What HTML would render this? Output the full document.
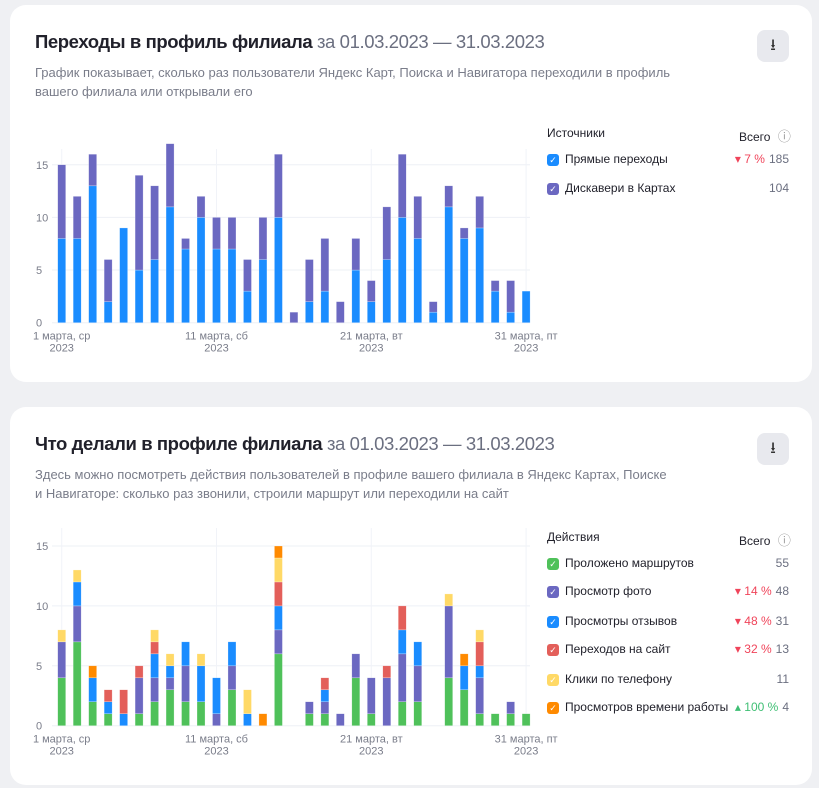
<!DOCTYPE html>
<html><head><meta charset="utf-8">
<style>
body{margin:0;width:819px;height:788px;background:#eff0f3;font-family:"Liberation Sans",sans-serif;position:relative;overflow:hidden}
.card{position:absolute;left:10px;width:802px;background:#fff;border-radius:16px}
.t{position:absolute;font-size:18.5px;font-weight:bold;color:#21212b;white-space:nowrap;letter-spacing:-0.4px}
.t span{font-weight:normal;color:#6b6f80}
.s{position:absolute;font-size:13px;color:#7a7d8a;line-height:19px;width:632px}
.dl{position:absolute;width:32px;height:32px;border-radius:8px;background:#e8e9ee;color:#333;font-size:16px;text-align:center;line-height:32px}
.lg{position:absolute;font-size:12px;color:#21212b;white-space:nowrap}
.cb{position:absolute;width:12px;height:12px;border-radius:3px;color:#fff;font-size:9px;line-height:12px;text-align:center}
.num{position:absolute;font-size:12px;color:#6b6f80;text-align:right;width:120px}
.num b{font-weight:normal;color:#f0445a;margin-right:4px}
.num i{font-style:normal;color:#3fbf74;margin-right:4px}
svg text{font-family:"Liberation Sans",sans-serif}
</style></head><body>
<div class="card" style="top:5px;height:377px"></div>
<div class="card" style="top:407px;height:378px"></div>

<div class="t" style="left:35px;top:31px">Переходы в профиль филиала <span>за 01.03.2023 — 31.03.2023</span></div>
<div class="s" style="left:35px;top:63px;width:660px">График показывает, сколько раз пользователи Яндекс Карт, Поиска и Навигатора переходили в профиль вашего филиала или открывали его</div>
<div class="dl" style="left:757px;top:30px">⭳</div>

<div class="t" style="left:35px;top:433px">Что делали в профиле филиала <span>за 01.03.2023 — 31.03.2023</span></div>
<div class="s" style="left:35px;top:465px">Здесь можно посмотреть действия пользователей в профиле вашего филиала в Яндекс Картах, Поиске и Навигаторе: сколько раз звонили, строили маршрут или переходили на сайт</div>
<div class="dl" style="left:757px;top:433px">⭳</div>

<div id="legends"></div>
<svg id="c1" width="819" height="788" style="position:absolute;left:0;top:0"></svg>

<script>
const days = Array.from({length:31},(_,i)=>i+1);
const direct = [8,8,13,2,9,5,6,11,7,10,7,7,3,6,10,0,2,3,0,5,2,6,10,8,1,11,8,9,3,1,3];
const discovery = [7,4,3,4,0,9,7,6,1,2,3,3,3,4,6,1,4,5,2,3,2,5,6,4,1,2,1,3,1,3,0];
const routes = [4,7,2,1,0,1,2,3,2,2,0,3,0,0,6,0,1,1,0,4,1,0,2,2,0,4,3,1,1,1,1];
const photos = [3,3,0,0,0,3,2,1,3,0,1,2,0,0,2,0,1,1,1,2,3,4,4,3,0,6,0,3,0,1,0];
const reviews = [0,2,2,1,1,0,2,1,2,3,3,2,1,0,2,0,0,1,0,0,0,0,2,2,0,0,2,1,0,0,0];
const site = [0,0,0,1,2,1,1,0,0,0,0,0,0,0,2,0,0,1,0,0,0,1,2,0,0,0,0,2,0,0,0];
const calls = [1,1,0,0,0,0,1,1,0,1,0,0,2,0,2,0,0,0,0,0,0,0,0,0,0,1,0,1,0,0,0];
const hours = [0,0,1,0,0,0,0,0,0,0,0,0,0,1,1,0,0,0,0,0,0,0,0,0,0,0,1,0,0,0,0];
const yTicks = [0,5,10,15];
const xTickDays = [1,11,21,31];
const xTickLabels = ["1 марта, ср","11 марта, сб","21 марта, вт","31 марта, пт"];

const NS="http://www.w3.org/2000/svg";
const svg=document.getElementById('c1');
function mk(tag,attrs){const e=document.createElementNS(NS,tag);for(const k in attrs)e.setAttribute(k,attrs[k]);svg.appendChild(e);return e;}
const x=d=>61.7+(d-1)*15.48;

function chart(y0,pxPerUnit,series,colors,prefix){
  const y=v=>y0-v*pxPerUnit;
  yTicks.forEach(t=>{
    const l=mk('line',{x1:52,x2:530,y1:y(t),y2:y(t),stroke:'#eef0f6','stroke-width':1});
    
    
    const tx=mk('text',{x:36,y:y(t)+4,'font-size':11,fill:'#7a7d8a'});tx.textContent=t;
    
    
  });
  xTickDays.forEach((d,i)=>{
    const l=mk('line',{x1:x(d),x2:x(d),y1:y(16.5),y2:y0,stroke:'#f1f3f8','stroke-width':1});
    
    
    const tx=mk('text',{x:x(d),y:y0+17,'font-size':11,fill:'#7a7d8a','text-anchor':'middle'});tx.textContent=xTickLabels[i];
    
    
    const ty=mk('text',{x:x(d),y:y0+29,'font-size':11,fill:'#7a7d8a','text-anchor':'middle'});ty.textContent='2023';
    
    
  });
  days.forEach((d,i)=>{
    let acc=0;
    series.forEach((s,k)=>{
      const v=s[i]; if(!v) return;
      const r=mk('rect',{x:x(d)-4,y:y(acc+v),width:8,height:v*pxPerUnit,fill:colors[k],stroke:'#fff','stroke-opacity':0.5,'stroke-width':0.5});
      
      
      acc+=v;
    });
  });
}
chart(322.7,10.53,[direct,discovery],['#1a8cff','#6b68c1'],'visits');
chart(725.7,11.98,[routes,photos,reviews,site,calls,hours],['#4fc15a','#6b68c1','#1a8cff','#e35f5a','#ffd966','#ff8a00'],'actions');

const leg=document.getElementById('legends');
function add(html){leg.insertAdjacentHTML('beforeend',html);}
add('<div class="lg" style="left:547px;top:126px">Источники</div>');
add('<div class="lg" style="left:739px;top:126px">Всего <span style="color:#999;margin-left:4px;font-size:13px">ⓘ</span></div>');
add('<div class="lg" style="left:547px;top:530px">Действия</div>');
add('<div class="lg" style="left:739px;top:530px">Всего <span style="color:#999;margin-left:4px;font-size:13px">ⓘ</span></div>');
const rows=[
 [160,'#1a8cff','Прямые переходы','<b>▾ 7 %</b>185','legend-direct'],
 [189,'#6b68c1','Дискавери в Картах','104','legend-discovery'],
 [564,'#4fc15a','Проложено маршрутов','55','legend-routes'],
 [592,'#6b68c1','Просмотр фото','<b>▾ 14 %</b>48','legend-photos'],
 [622,'#1a8cff','Просмотры отзывов','<b>▾ 48 %</b>31','legend-reviews'],
 [650,'#e35f5a','Переходов на сайт','<b>▾ 32 %</b>13','legend-site'],
 [680,'#ffd966','Клики по телефону','11','legend-calls'],
 [708,'#ff8a00','Просмотров времени работы','<i>▴ 100 %</i>4','legend-hours']];
rows.forEach(r=>{
 add(`<div class="cb" style="left:547px;top:${r[0]-6}px;background:${r[1]}">✓</div>`);
 add(`<div class="lg" style="left:565px;top:${r[0]-8}px">${r[2]}</div>`);
 add(`<div class="num" style="left:669px;top:${r[0]-8}px">${r[3]}</div>`);
});
</script>
</body></html>
